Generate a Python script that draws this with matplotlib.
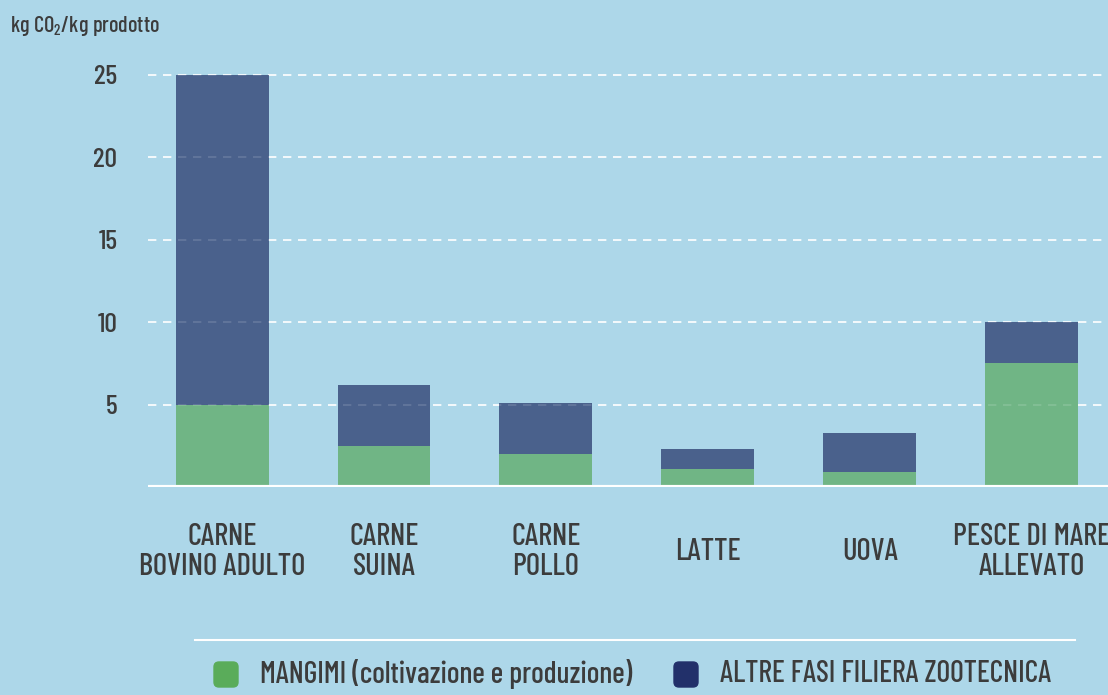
import matplotlib
matplotlib.use("Agg")
import matplotlib.pyplot as plt
from matplotlib.patches import FancyBboxPatch

plt.rcParams['font.family'] = ['Barlow Condensed', 'DejaVu Sans']
plt.rcParams['font.weight'] = 'medium'
plt.rcParams['mathtext.fontset'] = 'custom'
plt.rcParams['mathtext.rm'] = 'Barlow Condensed:medium'

categories = ["CARNE\nBOVINO ADULTO", "CARNE\nSUINA", "CARNE\nPOLLO", "LATTE", "UOVA", "PESCE DI MARE\nALLEVATO"]
mangimi = [5.0, 2.5, 2.0, 1.1, 0.9, 7.5]
altre = [20.0, 3.7, 3.1, 1.2, 2.4, 2.5]
yticks = [5, 10, 15, 20, 25]
legend_labels = ["MANGIMI (coltivazione e produzione)", "ALTRE FASI FILIERA ZOOTECNICA"]

bg = '#add7e9'
green = '#70b585'
blue = '#4a618c'
txt = '#3c3c3c'

fig = plt.figure(figsize=(11.08, 6.95), dpi=100, facecolor=bg)
ax = fig.add_axes([0.1336, 0.2993, 0.8664, 0.6403])
ax.set_facecolor(bg)

x = list(range(len(categories)))
ax.bar(x, mangimi, width=0.574, color=green, zorder=2)
ax.bar(x, altre, width=0.574, bottom=mangimi, color=blue, zorder=2)

ax.set_xlim(-0.457, 5.47)
ax.set_ylim(0, 27)

# dashed grid, bright under bars and faint over them
for t in yticks:
    ax.axhline(t, color='white', lw=1.2, dashes=(5, 4), zorder=1)
    ax.axhline(t, color='white', lw=1.2, dashes=(5, 4), alpha=0.15, zorder=3)
ax.axhline(0, color='white', lw=3, zorder=4)

for s in ax.spines.values():
    s.set_visible(False)
ax.set_yticks(yticks)
ax.set_yticklabels([str(t) for t in yticks], fontsize=20, color=txt)
ax.tick_params(axis='y', length=0, pad=22)
ax.set_xticks(x)
ax.set_xticklabels(categories, fontsize=22, color=txt, linespacing=1.07)
for lab in ax.get_xticklabels():
    lab.set_verticalalignment('center')
ax.tick_params(axis='x', length=0, pad=47)

fig.text(0.009, 0.962, r"kg CO$_2$/kg prodotto", fontsize=16, color=txt, va='center', ha='left')

# legend
fig.add_artist(plt.Line2D([195 / 1108, 1075 / 1108], [1 - 640 / 695, 1 - 640 / 695], color='white', lw=1.5))
cols = ['#5aac5a', '#22306a']
xs = [214, 674]
for lab, c, px in zip(legend_labels, cols, xs):
    fig.add_artist(FancyBboxPatch((px / 100, (695 - 687) / 100), 0.24, 0.25,
                                  boxstyle='round,pad=0,rounding_size=0.05',
                                  transform=fig.dpi_scale_trans, color=c))
    fig.text((px + 46) / 1108, 1 - 674 / 695, lab, fontsize=21.5, color=txt, va='center', ha='left')

fig.savefig('out.png', dpi=100, facecolor=bg)
